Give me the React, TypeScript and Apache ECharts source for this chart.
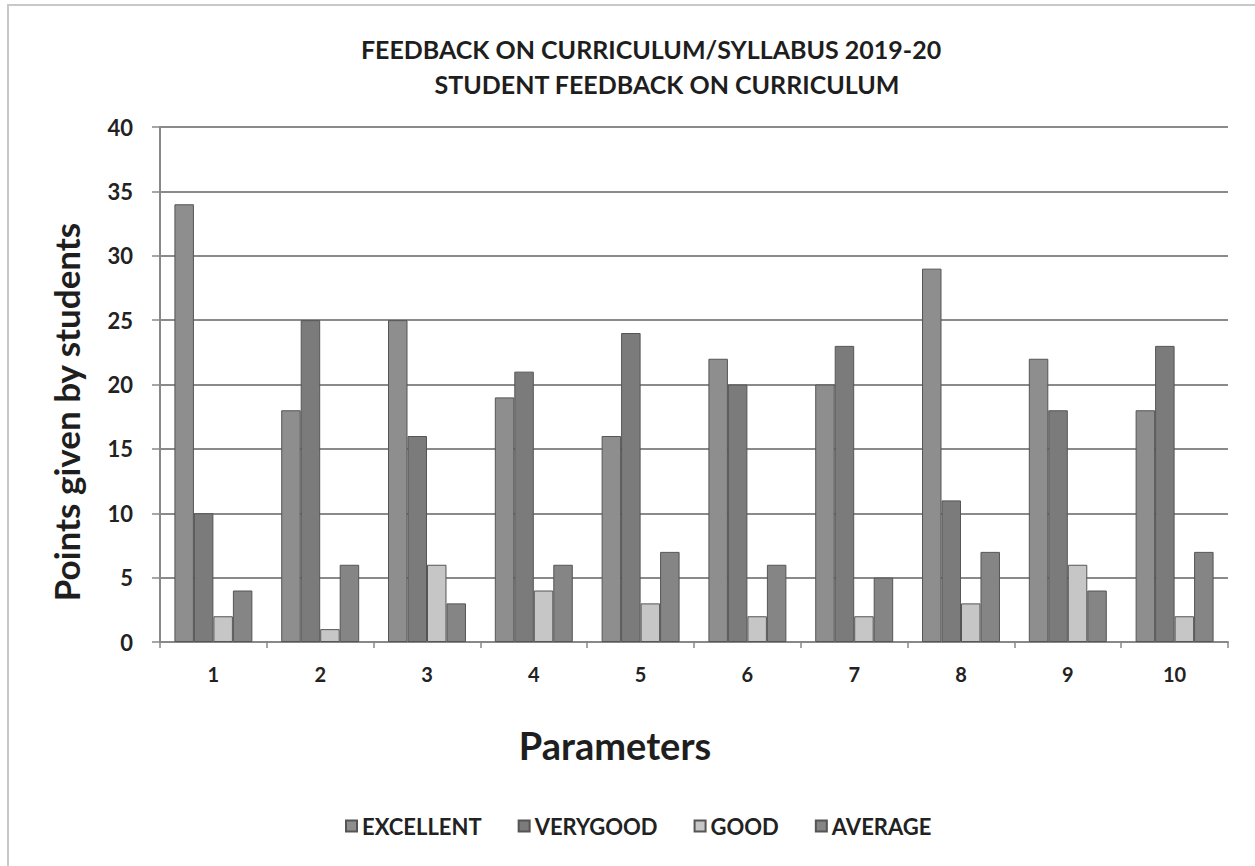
import React, { useEffect, useRef } from "react";
import * as echarts from "echarts";

const categories = ["1", "2", "3", "4", "5", "6", "7", "8", "9", "10"];
const excellent = [34, 18, 25, 19, 16, 22, 20, 29, 22, 18];
const verygood = [10, 25, 16, 21, 24, 20, 23, 11, 18, 23];
const good = [2, 1, 6, 4, 3, 2, 2, 3, 6, 2];
const average = [4, 6, 3, 6, 7, 6, 5, 7, 4, 7];
const seriesNames = ["EXCELLENT", "VERYGOOD", "GOOD", "AVERAGE"];
const colors = ["#8e8e8e", "#7b7b7b", "#c6c6c6", "#858585"];

const FONT = "Lato, 'Noto Sans', sans-serif";

export default function App() {
  const ref = useRef<HTMLDivElement>(null);
  useEffect(() => {
    if (!ref.current) return;
    const chart = echarts.init(ref.current, null, { renderer: "svg" });
    const data = [excellent, verygood, good, average];
    chart.setOption({
      animation: false,
      backgroundColor: "#ffffff",
      textStyle: { fontFamily: FONT },
      title: [
        {
          text: "FEEDBACK ON CURRICULUM/SYLLABUS 2019-20",
          left: 646,
          top: 31,
          textAlign: "center",
          textStyle: { fontFamily: FONT, fontWeight: "bold", fontSize: 25, color: "#1e1e1e" },
        },
        {
          text: "STUDENT FEEDBACK ON CURRICULUM",
          left: 662,
          top: 66,
          textAlign: "center",
          textStyle: { fontFamily: FONT, fontWeight: "bold", fontSize: 25, color: "#1e1e1e" },
        },
      ],
      legend: {
        bottom: 24,
        left: 340,
        itemWidth: 11,
        itemHeight: 11,
        itemGap: 36,
        icon: "rect",
        textStyle: { fontFamily: FONT, fontSize: 22, fontWeight: "bold", color: "#222", padding: [0, 0, 0, 0] },
        data: seriesNames,
      },
      grid: { left: 160, right: 27, top: 127, bottom: 224 },
      xAxis: {
        type: "category",
        data: categories,
        axisLine: { lineStyle: { color: "#888", width: 2 } },
        axisTick: { show: true, length: 6, lineStyle: { color: "#888", width: 1.5 } },
        axisLabel: { fontFamily: FONT, fontSize: 20, fontWeight: "bold", color: "#222", margin: 22 },
      },
      yAxis: {
        type: "value",
        min: 0,
        max: 40,
        interval: 5,
        axisLine: { show: true, lineStyle: { color: "#888", width: 2 } },
        axisTick: { show: true, length: 8, lineStyle: { color: "#888", width: 1.5 } },
        axisLabel: { fontFamily: FONT, fontSize: 22, fontWeight: "bold", color: "#222", margin: 27 },
        splitLine: { lineStyle: { color: "#8a8a8a", width: 2 } },
      },
      graphic: [
        {
          type: "rect",
          shape: { x: 8, y: 5, width: 1260, height: 880 },
          style: { fill: "none", stroke: "#c8c8c8", lineWidth: 2 },
          silent: true,
        },
        {
          type: "text",
          x: 66,
          y: 412,
          rotation: Math.PI / 2,
          style: {
            text: "Points given by students",
            fontFamily: FONT,
            fontWeight: "bold",
            fontSize: 35,
            fill: "#1e1e1e",
            textAlign: "center",
            textVerticalAlign: "middle",
          },
        },
        {
          type: "text",
          x: 615,
          y: 745,
          style: {
            text: "Parameters",
            fontFamily: FONT,
            fontWeight: "bold",
            fontSize: 38,
            fill: "#1e1e1e",
            textAlign: "center",
            textVerticalAlign: "middle",
          },
        },
      ],
      series: seriesNames.map((name, i) => ({
        name,
        type: "bar",
        data: data[i],
        barGap: "0%",
        barCategoryGap: "27%",
        itemStyle: { color: colors[i], borderColor: "#555", borderWidth: 1 },
      })),
    });
    return () => chart.dispose();
  }, []);
  return (
    <div
      ref={ref}
      style={{ position: "fixed", left: 0, top: 0, width: 1255, height: 866 }}
    />
  );
}
